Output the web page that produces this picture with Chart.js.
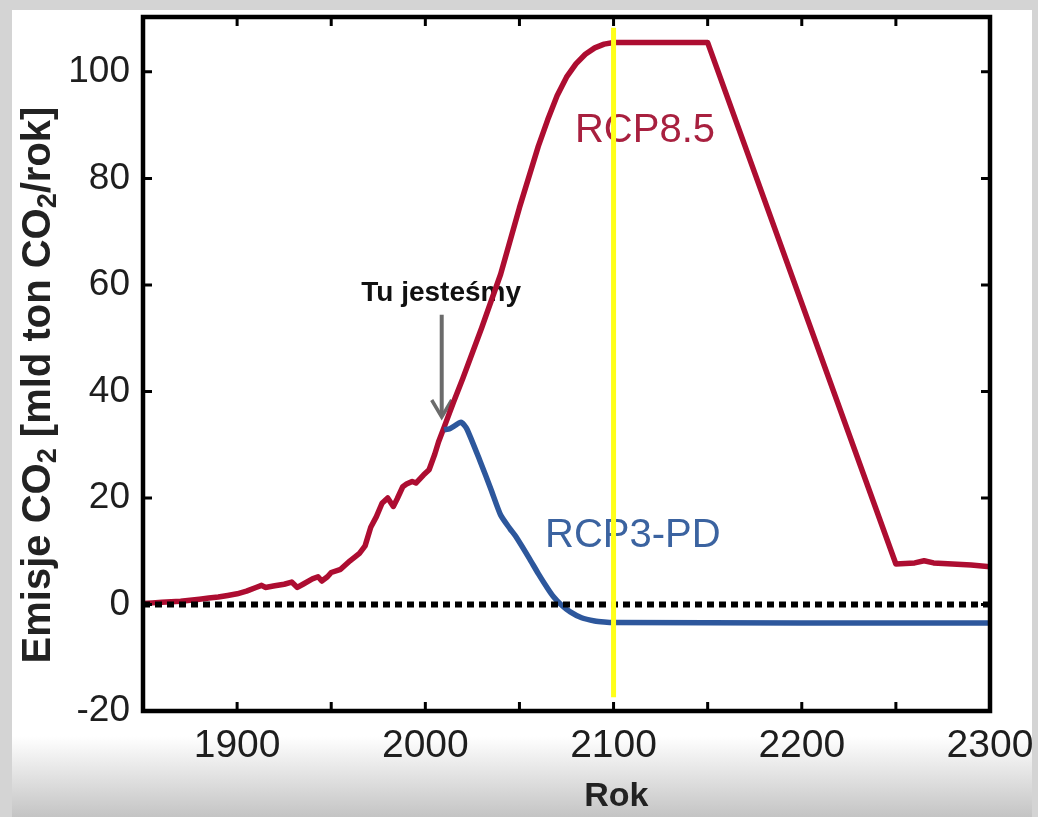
<!DOCTYPE html>
<html lang="pl">
<head>
<meta charset="UTF-8">
<title>Emisje CO2 - RCP8.5 i RCP3-PD</title>
<script src="https://cdn.jsdelivr.net/npm/chart.js@4.4.1/dist/chart.umd.min.js"></script>
<style>
  html, body { margin: 0; padding: 0; }
  body { width: 1038px; height: 817px; background: #d4d4d4; position: relative; overflow: hidden; }
  #panel {
    position: absolute; left: 12px; top: 10px; width: 1020px; height: 807px;
    background: linear-gradient(to bottom, #ffffff 0%, #ffffff 90%, #c4c4c4 100%);
  }
  #wrap { position: absolute; left: 0; top: 0; width: 1038px; height: 817px; }
</style>
</head>
<body>
<div id="panel"></div>
<div id="wrap"><canvas id="chart" width="1038" height="817"></canvas></div>

<script>
// --- data ---
const rcp85Years = [1850, 1855, 1860, 1865, 1870, 1875, 1880, 1885, 1890, 1895, 1900, 1905, 1910, 1913, 1915, 1920,
  1925, 1929, 1932, 1935, 1940, 1943, 1945, 1948, 1950, 1955, 1960, 1965, 1968, 1971, 1974, 1977, 1980, 1983,
  1985, 1988, 1990, 1993, 1995, 1999, 2002, 2005, 2007, 2010, 2015, 2020, 2030, 2040, 2050, 2060, 2065, 2070,
  2075, 2080, 2085, 2090, 2095, 2100, 2150, 2250, 2260, 2265, 2270, 2280, 2290, 2300];
const rcp85Values = [0.2, 0.3, 0.4, 0.5, 0.6, 0.8, 1.0, 1.2, 1.4, 1.7, 2.0, 2.5, 3.2, 3.6, 3.2, 3.5,
  3.8, 4.2, 3.2, 3.8, 4.8, 5.2, 4.4, 5.2, 6.0, 6.6, 8.2, 9.6, 11.0, 14.5, 16.5, 19.0, 20.0, 18.4,
  19.8, 22.1, 22.6, 23.1, 22.8, 24.3, 25.3, 28.2, 30.5, 33.3, 38.0, 42.5, 52.0, 62.0, 74.5, 86.0, 91.0, 95.5,
  99.0, 101.5, 103.3, 104.5, 105.2, 105.5, 105.5, 7.6, 7.8, 8.2, 7.8, 7.6, 7.4, 7.1];

const rcp3Years = [2010, 2013, 2019, 2022, 2029, 2035, 2040, 2045, 2048, 2055, 2060, 2065, 2068, 2072, 2077,
  2083, 2090, 2095, 2100, 2300];
const rcp3Values = [32.8, 33.0, 34.2, 33.0, 27.0, 21.5, 16.8, 14.2, 12.8, 8.8, 5.8, 3.0, 1.5, 0.0, -1.4,
  -2.5, -3.1, -3.3, -3.4, -3.5];

const zeroYears = [1850, 2300];
const zeroValues = [0, 0];

const markerYears = [2100, 2100];
const markerValues = [108.3, -17.4];

const xLabelYears = [1900, 2000, 2100, 2200, 2300];
const xTickYears = [1900, 1950, 2000, 2050, 2100, 2150, 2200, 2250];
const yTickValues = [-20, 0, 20, 40, 60, 80, 100];

const seriesNames = ['RCP8.5', 'RCP3-PD'];

function pts(xs, ys) { return xs.map((x, i) => ({ x: x, y: ys[i] })); }

const FONT = '"Liberation Sans", Arial, Helvetica, sans-serif';

// annotations, labels, frame and inward ticks
const decor = {
  id: 'decor',
  beforeDatasetsDraw(chart) {
    const ctx = chart.ctx, xs = chart.scales.x, ys = chart.scales.y;
    ctx.save();
    // "Tu jestesmy" arrow
    const ax = xs.getPixelForValue(2008.7);
    const aTop = ys.getPixelForValue(54.4), aTip = ys.getPixelForValue(35.2);
    ctx.strokeStyle = '#6b6b6b';
    ctx.lineWidth = 4;
    ctx.beginPath();
    ctx.moveTo(ax, aTop);
    ctx.lineTo(ax, aTip - 3);
    ctx.stroke();
    ctx.beginPath();
    ctx.moveTo(ax - 10, aTip - 17);
    ctx.lineTo(ax, aTip);
    ctx.lineTo(ax + 10, aTip - 17);
    ctx.lineWidth = 3.5;
    ctx.stroke();

    ctx.fillStyle = '#111';
    ctx.font = 'bold 28px ' + FONT;
    ctx.textAlign = 'center';
    ctx.textBaseline = 'alphabetic';
    ctx.fillText('Tu jesteśmy', xs.getPixelForValue(2008.4), ys.getPixelForValue(56.9));

    // series labels
    ctx.font = '40px ' + FONT;
    ctx.textAlign = 'left';
    ctx.fillStyle = '#a8203f';
    ctx.fillText(seriesNames[0], xs.getPixelForValue(2079.5), ys.getPixelForValue(86.9));
    ctx.fillStyle = '#3b63a0';
    ctx.fillText(seriesNames[1], xs.getPixelForValue(2063.6), ys.getPixelForValue(10.8));
    ctx.restore();
  },
  afterDatasetsDraw(chart) {
    const ctx = chart.ctx, a = chart.chartArea, xs = chart.scales.x, ys = chart.scales.y;
    ctx.save();
    ctx.strokeStyle = '#000';
    ctx.lineWidth = 3;
    const tl = 9;
    ctx.beginPath();
    xTickYears.forEach(v => {
      const px = xs.getPixelForValue(v);
      ctx.moveTo(px, a.bottom); ctx.lineTo(px, a.bottom - tl);
      ctx.moveTo(px, a.top); ctx.lineTo(px, a.top + tl);
    });
    yTickValues.forEach(v => {
      const py = ys.getPixelForValue(v);
      ctx.moveTo(a.left, py); ctx.lineTo(a.left + tl, py);
      ctx.moveTo(a.right, py); ctx.lineTo(a.right - tl, py);
    });
    ctx.stroke();
    ctx.lineWidth = 4.5;
    ctx.strokeRect(a.left, a.top, a.right - a.left, a.bottom - a.top);

    // x title
    ctx.fillStyle = '#222';
    ctx.font = 'bold 34px ' + FONT;
    ctx.textAlign = 'center';
    ctx.textBaseline = 'alphabetic';
    ctx.fillText('Rok', xs.getPixelForValue(2101.5), 806);

    // y title with subscripts
    const parts = [
      { t: 'Emisje CO', sub: false }, { t: '2', sub: true },
      { t: ' [mld ton CO', sub: false }, { t: '2', sub: true },
      { t: '/rok]', sub: false }
    ];
    const big = 'bold 40px ' + FONT, small = 'bold 27px ' + FONT;
    let total = 0;
    parts.forEach(p => { ctx.font = p.sub ? small : big; p.w = ctx.measureText(p.t).width; total += p.w; });
    ctx.translate(50, 385);
    ctx.rotate(-Math.PI / 2);
    ctx.textAlign = 'left';
    let cx = -total / 2;
    parts.forEach(p => {
      ctx.font = p.sub ? small : big;
      ctx.fillText(p.t, cx, p.sub ? 6 : 0);
      cx += p.w;
    });
    ctx.restore();
  }
};

const ctx = document.getElementById('chart').getContext('2d');
new Chart(ctx, {
  type: 'line',
  data: {
    datasets: [
      { label: 'marker2100', data: pts(markerYears, markerValues), borderColor: '#ffff1a', borderWidth: 5,
        pointRadius: 0, fill: false },
      { label: 'zero', data: pts(zeroYears, zeroValues), borderColor: '#000', borderWidth: 6,
        borderDash: [7, 5], borderCapStyle: 'butt', pointRadius: 0, fill: false },
      { label: seriesNames[1], data: pts(rcp3Years, rcp3Values), borderColor: '#2d579c', borderWidth: 5.5,
        pointRadius: 0, tension: 0.2, fill: false, borderJoinStyle: 'round' },
      { label: seriesNames[0], data: pts(rcp85Years, rcp85Values), borderColor: '#ad0d31', borderWidth: 5.5,
        pointRadius: 0, tension: 0, fill: false, borderJoinStyle: 'round' }
    ]
  },
  options: {
    responsive: false,
    animation: false,
    events: [],
    layout: { padding: { top: 17, right: 48, left: 0, bottom: 0 } },
    plugins: { legend: { display: false }, tooltip: { enabled: false } },
    scales: {
      x: {
        type: 'linear', min: 1850, max: 2300,
        grid: { display: false, drawTicks: false }, border: { display: false },
        ticks: {
          stepSize: 50, autoSkip: false, maxRotation: 0, padding: 12, color: '#1e1e1e',
          font: { family: FONT, size: 39 },
          callback: v => xLabelYears.includes(v) ? String(v) : ''
        },
        afterFit: s => { s.height = 106; s.paddingLeft = 0; s.paddingRight = 0; }
      },
      y: {
        type: 'linear', min: -20, max: 110.3,
        grid: { display: false, drawTicks: false }, border: { display: false },
        ticks: {
          stepSize: 20, includeBounds: false, padding: 13, color: '#1e1e1e',
          font: { family: FONT, size: 37 },
          callback: v => yTickValues.includes(v) ? String(v) : ''
        },
        afterFit: s => { s.width = 143; s.paddingTop = 0; s.paddingBottom = 0; }
      }
    }
  },
  plugins: [decor]
});
</script>
</body>
</html>
